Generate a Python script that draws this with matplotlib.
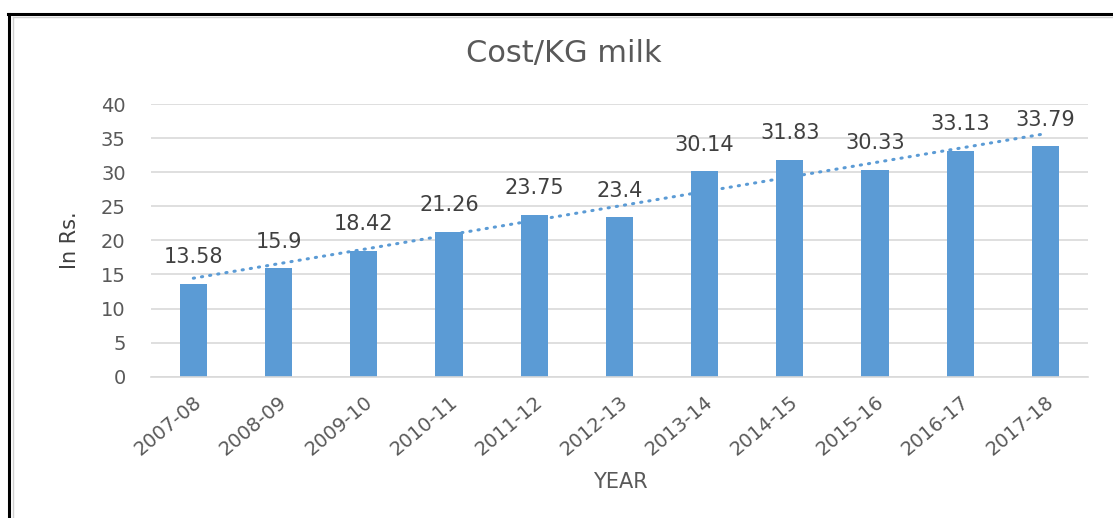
import numpy as np
import matplotlib.pyplot as plt
from matplotlib.lines import Line2D

# Coût du lait par kg, par année
annees = ["2007-08", "2008-09", "2009-10", "2010-11", "2011-12", "2012-13",
          "2013-14", "2014-15", "2015-16", "2016-17", "2017-18"]
cout_kg = [13.58, 15.9, 18.42, 21.26, 23.75, 23.4, 30.14, 31.83, 30.33, 33.13, 33.79]
graduations = [0, 5, 10, 15, 20, 25, 30, 35, 40]

bleu = "#5B9BD5"
gris_texte = "#595959"
gris_grille = "#D9D9D9"

plt.rcParams['font.family'] = ['DejaVu Sans']

fig = plt.figure(figsize=(11.13, 5.18), dpi=100)
ax = fig.add_axes([0.1354, 0.2728, 0.8422, 0.5264])

x = np.arange(len(annees))
ax.bar(x, cout_kg, width=0.32, color=bleu, zorder=2)

# Courbe de tendance linéaire (pointillés ronds)
a, b = np.polyfit(x, cout_kg, 1)
ax.plot(x, a * x + b, color=bleu, linestyle=(0, (0.4, 2.3)), linewidth=2.2,
        dash_capstyle='round', zorder=3)

# Étiquettes de valeurs
for xi, v in zip(x, cout_kg):
    ax.annotate(f"{v:g}", (xi, v), xytext=(0, 12), textcoords="offset points",
                ha="center", va="bottom", fontsize=15, color="#404040", zorder=4)

ax.set_xlim(-0.5, len(annees) - 0.5)
ax.set_ylim(0, 40)
ax.set_yticks(graduations)
ax.set_xticks(x)
ax.set_xticklabels(annees, rotation=40, ha="right", rotation_mode="anchor")
ax.tick_params(axis="both", length=0, colors=gris_texte, labelsize=14)
ax.tick_params(axis="y", pad=18)
ax.tick_params(axis="x", pad=11)

ax.grid(axis="y", color=gris_grille, linewidth=1.2, zorder=0)
for cote in ["top", "right", "left"]:
    ax.spines[cote].set_visible(False)
ax.spines["bottom"].set_color(gris_grille)
ax.spines["bottom"].set_linewidth(1.2)

fig.text(0.507, 0.896, "Cost/KG milk", ha="center", va="center",
         fontsize=22, color=gris_texte)
fig.text(0.063, 0.536, "In Rs.", ha="center", va="center", rotation=90,
         fontsize=15, color="#404040")
fig.text(0.557, 0.069, "YEAR", ha="center", va="center",
         fontsize=15, color=gris_texte)

# Cadre noir en haut et à gauche
fig.add_artist(Line2D([0.0085, 0.0085], [0, 0.973], color="black", linewidth=2.2,
                      transform=fig.transFigure))
fig.add_artist(Line2D([0.0075, 1], [0.973, 0.973], color="black", linewidth=2.2,
                      transform=fig.transFigure))
fig.add_artist(Line2D([0.0115, 0.0115], [0, 0.968], color="#D0D0D0", linewidth=1,
                      transform=fig.transFigure))
fig.add_artist(Line2D([0.0115, 1], [0.968, 0.968], color="#D0D0D0", linewidth=1,
                      transform=fig.transFigure))

fig.savefig("out.png", dpi=100)
